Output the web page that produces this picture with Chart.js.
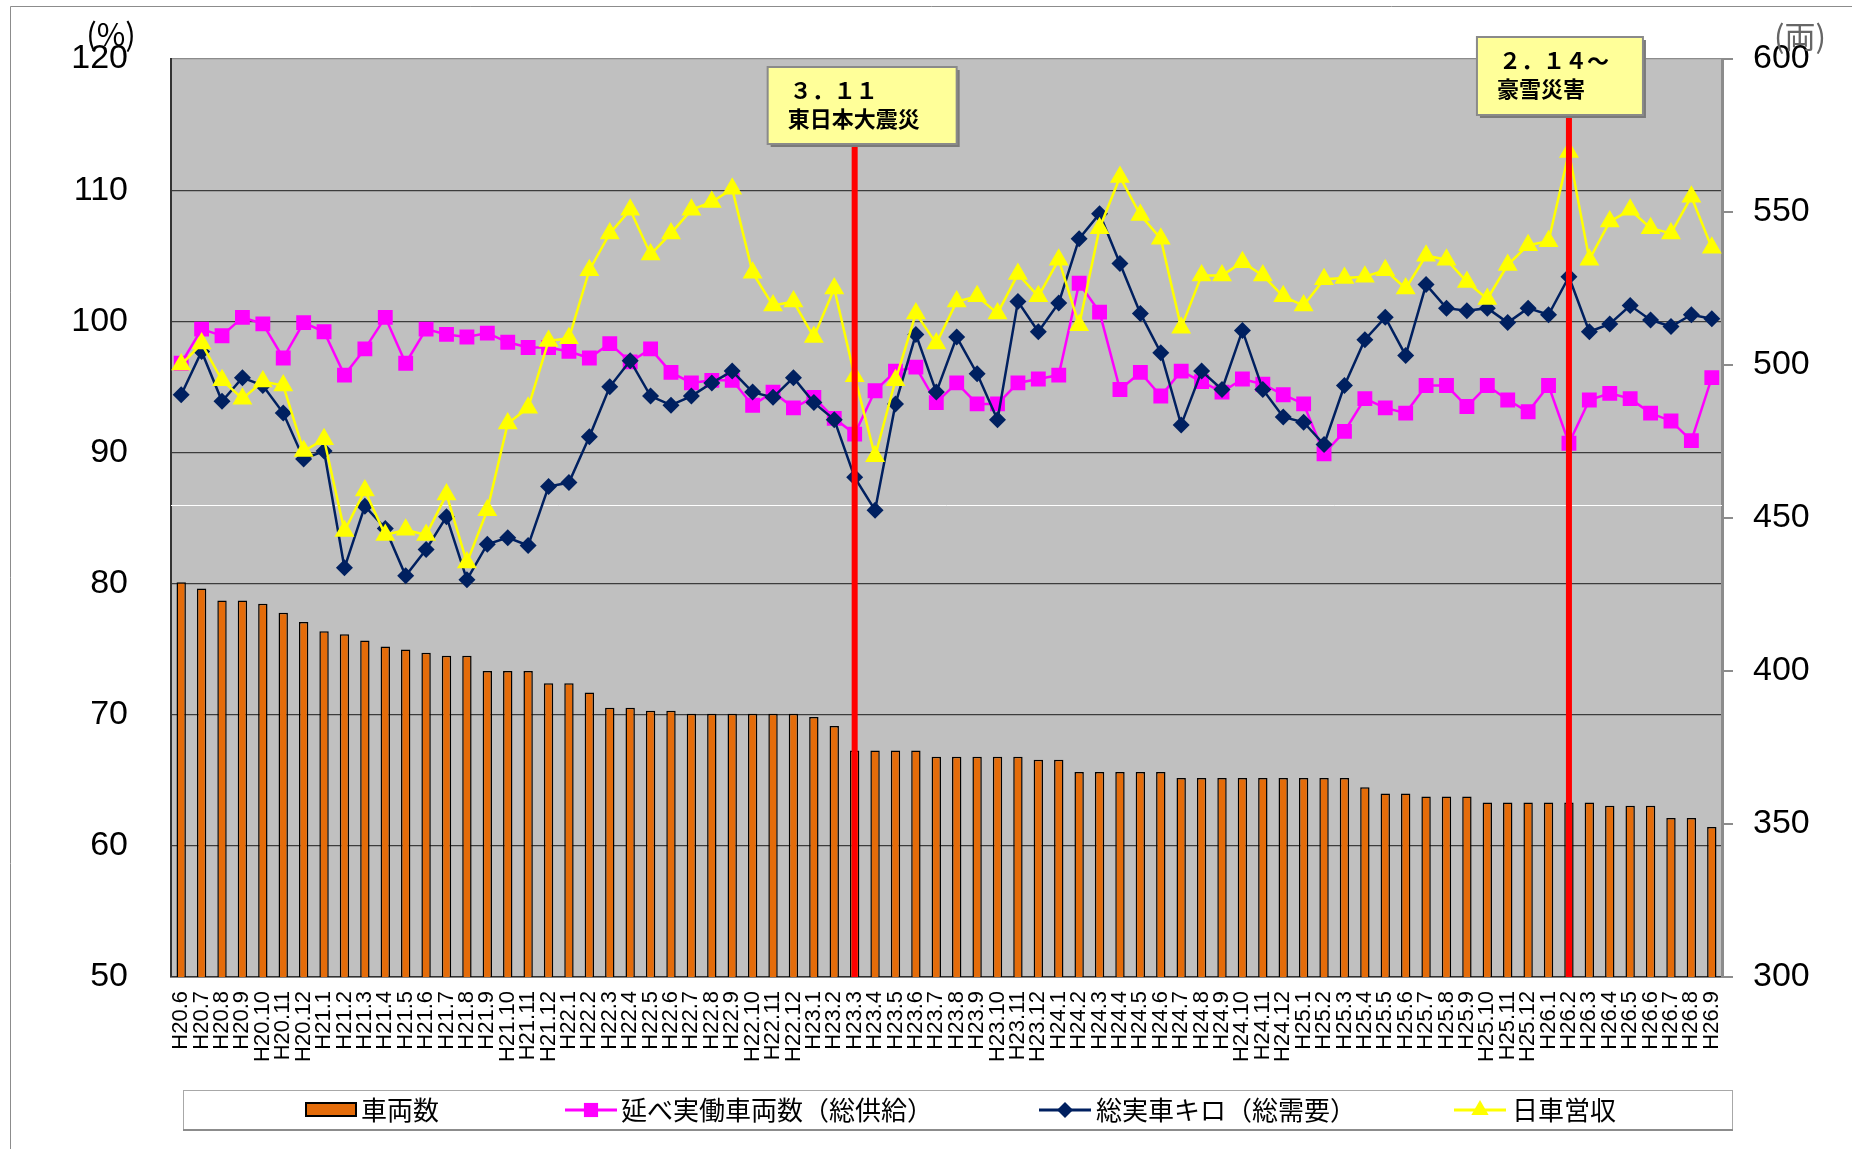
<!DOCTYPE html>
<html lang="ja">
<head>
<meta charset="utf-8">
<title>車両数・延べ実働車両数・総実車キロ・日車営収の推移</title>
<script src="https://cdn.jsdelivr.net/npm/chart.js@4.4.1/dist/chart.umd.min.js"></script>
<style>
  html, body { margin:0; padding:0; background:#fff; }
  #wrap { position:relative; width:1852px; height:1149px; }
</style>
</head>
<body>
<div id="wrap"><canvas id="chart" width="1852" height="1149"></canvas></div>
<script>
// month labels H20.6 - H26.9
const months = [
  'H20.6','H20.7','H20.8','H20.9','H20.10','H20.11','H20.12',
  'H21.1','H21.2','H21.3','H21.4','H21.5','H21.6','H21.7','H21.8','H21.9','H21.10','H21.11','H21.12',
  'H22.1','H22.2','H22.3','H22.4','H22.5','H22.6','H22.7','H22.8','H22.9','H22.10','H22.11','H22.12',
  'H23.1','H23.2','H23.3','H23.4','H23.5','H23.6','H23.7','H23.8','H23.9','H23.10','H23.11','H23.12',
  'H24.1','H24.2','H24.3','H24.4','H24.5','H24.6','H24.7','H24.8','H24.9','H24.10','H24.11','H24.12',
  'H25.1','H25.2','H25.3','H25.4','H25.5','H25.6','H25.7','H25.8','H25.9','H25.10','H25.11','H25.12',
  'H26.1','H26.2','H26.3','H26.4','H26.5','H26.6','H26.7','H26.8','H26.9'
];

// 車両数 (両) - right axis
const cars = [
  429,427,423,423,422,419,416,413,412,410,
  408,407,406,405,405,400,400,400,396,396,
  393,388,388,387,387,386,386,386,386,386,
  386,385,382,374,374,374,374,372,372,372,
  372,372,371,371,367,367,367,367,367,365,
  365,365,365,365,365,365,365,365,362,360,
  360,359,359,359,357,357,357,357,357,357,
  356,356,356,352,352,349
];

// 延べ実働車両数（総供給） (%)
const supply = [
  96.8,99.4,98.9,100.3,99.8,97.2,99.9,99.2,95.9,97.9,
  100.3,96.8,99.4,99.0,98.8,99.1,98.4,98.0,98.0,97.7,
  97.2,98.3,96.9,97.9,96.1,95.3,95.5,95.5,93.6,94.6,
  93.4,94.2,92.6,91.4,94.7,96.2,96.5,93.8,95.3,93.7,
  93.7,95.3,95.6,95.9,102.9,100.7,94.8,96.1,94.3,96.2,
  95.4,94.6,95.6,95.2,94.4,93.7,89.9,91.6,94.1,93.4,
  93.0,95.1,95.1,93.5,95.1,94.0,93.1,95.1,90.7,94.0,
  94.5,94.1,93.0,92.4,90.9,95.7
];

// 総実車キロ（総需要） (%)
const demand = [
  94.4,97.7,93.9,95.7,95.1,93.0,89.5,90.1,81.2,85.9,
  84.2,80.6,82.6,85.1,80.3,83.0,83.5,82.9,87.4,87.7,
  91.2,95.0,97.0,94.3,93.6,94.3,95.3,96.2,94.6,94.2,
  95.7,93.8,92.5,88.1,85.6,93.7,99.0,94.6,98.8,96.0,
  92.5,101.5,99.2,101.4,106.3,108.2,104.4,100.6,97.6,92.1,
  96.2,94.8,99.3,94.8,92.7,92.3,90.6,95.1,98.6,100.3,
  97.4,102.8,101.0,100.8,101.0,99.9,101.0,100.5,103.4,99.2,
  99.8,101.2,100.1,99.6,100.5,100.2
];

// 日車営収 (%)
const revenue = [
  96.7,98.3,95.5,94.1,95.4,95.1,90.1,91.0,84.0,87.1,
  83.7,84.1,83.7,86.8,81.6,85.6,92.2,93.4,98.5,98.7,
  103.9,106.7,108.5,105.1,106.7,108.5,109.1,110.1,103.7,101.2,
  101.5,98.8,102.5,95.8,89.7,95.5,100.6,98.3,101.5,101.9,
  100.6,103.6,101.9,104.7,99.7,107.1,111.0,108.1,106.3,99.5,
  103.5,103.5,104.5,103.5,101.9,101.2,103.2,103.3,103.4,103.9,
  102.5,105.0,104.7,103.0,101.7,104.3,105.8,106.1,112.9,104.7,
  107.6,108.5,107.1,106.7,109.5,105.6
];

// event markers
const eventMonths = ['H23.3', 'H26.2'];
const eventTexts = [['３．１１', '東日本大震災'], ['２．１４～', '豪雪災害']];

const legendNames = ['車両数', '延べ実働車両数（総供給）', '総実車キロ（総需要）', '日車営収'];

const ORANGE = '#E46C0A', MAGENTA = '#FF00FF', NAVY = '#002060', YELLOW = '#FFFF00';
const JP = "'Noto Sans CJK JP', sans-serif";
const NUM = "'Liberation Sans', Arial, sans-serif";

function marker(ctx, style, x, y, r){
  ctx.beginPath();
  if (style === 'rect') {
    const s = Math.SQRT1_2 * r;
    ctx.rect(x - s, y - s, 2 * s, 2 * s);
  } else if (style === 'rectRot') {
    ctx.moveTo(x - r, y); ctx.lineTo(x, y - r); ctx.lineTo(x + r, y); ctx.lineTo(x, y + r); ctx.closePath();
  } else if (style === 'triangle') {
    ctx.moveTo(x, y - r); ctx.lineTo(x + r * 0.866, y + r / 2); ctx.lineTo(x - r * 0.866, y + r / 2); ctx.closePath();
  }
  ctx.fill();
}

const backdrop = {
  id: 'backdrop',
  beforeDraw(chart){
    const {ctx, chartArea: a} = chart;
    ctx.save();
    ctx.fillStyle = '#fff';
    ctx.fillRect(0, 0, chart.width, chart.height);
    ctx.strokeStyle = '#8c8c8c'; ctx.lineWidth = 1;
    ctx.beginPath(); ctx.moveTo(10.5, chart.height); ctx.lineTo(10.5, 6.5); ctx.lineTo(chart.width, 6.5); ctx.stroke();
    ctx.fillStyle = '#C0C0C0';
    ctx.fillRect(a.left, a.top, a.right - a.left, a.bottom - a.top);
    ctx.restore();
  },
  beforeDatasetsDraw(chart){
    // stray white rule across the plot
    const {ctx, chartArea: a, scales} = chart;
    const y = Math.round(scales.y.getPixelForValue(86)) + 0.5;
    ctx.save();
    ctx.strokeStyle = '#fff'; ctx.lineWidth = 1;
    ctx.beginPath(); ctx.moveTo(a.left, y); ctx.lineTo(a.right, y); ctx.stroke();
    ctx.restore();
  }
};

const events = {
  id: 'events',
  afterDatasetsDraw(chart){
    const {ctx, chartArea: a, scales} = chart;
    const boxes = [{dx: -87, top: 67, w: 189, h: 77}, {dx: -92, top: 37, w: 166, h: 78}];
    ctx.save();
    eventMonths.forEach((m, i) => {
      const x = scales.x.getPixelForValue(months.indexOf(m));
      const b = boxes[i];
      ctx.fillStyle = '#FF0000';
      ctx.fillRect(x - 3, b.top + b.h, 6, a.bottom - b.top - b.h);
      const left = x + b.dx;
      ctx.fillStyle = '#7a7a7a';
      ctx.fillRect(left + 3, b.top + 3, b.w, b.h);
      ctx.fillStyle = '#FFFF99';
      ctx.fillRect(left, b.top, b.w, b.h);
      ctx.strokeStyle = '#8a8a8a'; ctx.lineWidth = 2;
      ctx.strokeRect(left, b.top, b.w, b.h);
      ctx.fillStyle = '#000';
      ctx.font = 'bold 22px ' + JP;
      ctx.textBaseline = 'middle'; ctx.textAlign = 'left';
      ctx.fillText(eventTexts[i][0], left + 22, b.top + 24);
      ctx.fillText(eventTexts[i][1], left + 20, b.top + 52);
    });
    ctx.restore();
  },
  afterDraw(chart){
    const {ctx} = chart;
    ctx.save();
    // axis units
    ctx.fillStyle = '#000';
    ctx.font = '31px ' + JP;
    ctx.textAlign = 'center'; ctx.textBaseline = 'middle';
    ctx.fillText('(%)', 111, 34);
    ctx.fillStyle = '#666';
    ctx.fillText('(両)', 1800, 36);

    // legend box
    ctx.fillStyle = '#fff';
    ctx.fillRect(183, 1090, 1549, 39);
    ctx.strokeStyle = '#a8a8a8'; ctx.lineWidth = 1;
    ctx.strokeRect(183.5, 1090.5, 1549, 39);
    ctx.strokeStyle = '#8c8c8c'; ctx.lineWidth = 2;
    ctx.beginPath(); ctx.moveTo(183, 1130); ctx.lineTo(1733, 1130); ctx.stroke();

    const ly = 1110;
    ctx.fillStyle = ORANGE;
    ctx.fillRect(306, 1103, 50, 13);
    ctx.strokeStyle = '#000'; ctx.lineWidth = 2;
    ctx.strokeRect(306, 1103, 50, 13);

    const items = [
      {x: 565, color: MAGENTA, style: 'rect', r: 10},
      {x: 1039, color: NAVY, style: 'rectRot', r: 8},
      {x: 1454, color: YELLOW, style: 'triangle', r: 10}
    ];
    items.forEach(it => {
      ctx.strokeStyle = it.color; ctx.lineWidth = 3;
      ctx.beginPath(); ctx.moveTo(it.x, ly); ctx.lineTo(it.x + 52, ly); ctx.stroke();
      ctx.fillStyle = it.color;
      marker(ctx, it.style, it.x + 26, ly, it.r);
    });

    ctx.fillStyle = '#000';
    ctx.font = '26px ' + JP;
    ctx.textAlign = 'left'; ctx.textBaseline = 'middle';
    const tx = [361, 621, 1096, 1512];
    legendNames.forEach((n, i) => ctx.fillText(n, tx[i], ly));
    ctx.restore();
  }
};

new Chart(document.getElementById('chart'), {
  data: {
    labels: months,
    datasets: [
      { type: 'line', label: legendNames[3], data: revenue, yAxisID: 'y', order: 1,
        borderColor: YELLOW, backgroundColor: YELLOW, borderWidth: 2.5,
        pointStyle: 'triangle', pointRadius: 11.5, pointBorderWidth: 0 },
      { type: 'line', label: legendNames[2], data: demand, yAxisID: 'y', order: 2,
        borderColor: NAVY, backgroundColor: NAVY, borderWidth: 2.5,
        pointStyle: 'rectRot', pointRadius: 8.5, pointBorderWidth: 0 },
      { type: 'line', label: legendNames[1], data: supply, yAxisID: 'y', order: 3,
        borderColor: MAGENTA, backgroundColor: MAGENTA, borderWidth: 2.5,
        pointStyle: 'rect', pointRadius: 10.5, pointBorderWidth: 0 },
      { type: 'bar', label: legendNames[0], data: cars, yAxisID: 'y1', order: 4,
        backgroundColor: ORANGE, borderColor: '#000', borderWidth: 1.5,
        barPercentage: 0.46, categoryPercentage: 1 }
    ]
  },
  options: {
    responsive: false,
    animation: false,
    events: [],
    layout: { padding: { top: 59, left: 0, right: 0, bottom: 0 } },
    plugins: { legend: { display: false }, tooltip: { enabled: false } },
    scales: {
      x: {
        offset: true,
        grid: { display: false, drawTicks: false },
        border: { color: '#333', width: 1.5 },
        ticks: { autoSkip: false, minRotation: 90, maxRotation: 90, padding: 14,
                 color: '#000', font: { family: NUM, size: 22 } },
        afterFit(s){ s.height = 172; s.paddingLeft = 0; s.paddingRight = 0; }
      },
      y: {
        position: 'left', min: 50, max: 120,
        ticks: { stepSize: 10, padding: 43, color: '#000', font: { family: NUM, size: 34 } },
        grid: { drawTicks: false, lineWidth: 1.2,
                color: c => c.tick && c.tick.value === 120 ? '#8c8c8c' : '#3c3c3c' },
        border: { color: '#333', width: 2 },
        afterFit(s){ s.width = 171; s.paddingTop = 0; s.paddingBottom = 0; }
      },
      y1: {
        position: 'right', min: 300, max: 600,
        ticks: { stepSize: 50, padding: 20, color: '#000', font: { family: NUM, size: 34 } },
        grid: { drawOnChartArea: false, drawTicks: true, tickLength: 11, tickColor: '#8c8c8c', lineWidth: 2 },
        border: { color: '#8c8c8c', width: 3 },
        afterFit(s){ s.width = 130; s.paddingTop = 0; s.paddingBottom = 0; }
      }
    }
  },
  plugins: [backdrop, events]
});
</script>
</body>
</html>
